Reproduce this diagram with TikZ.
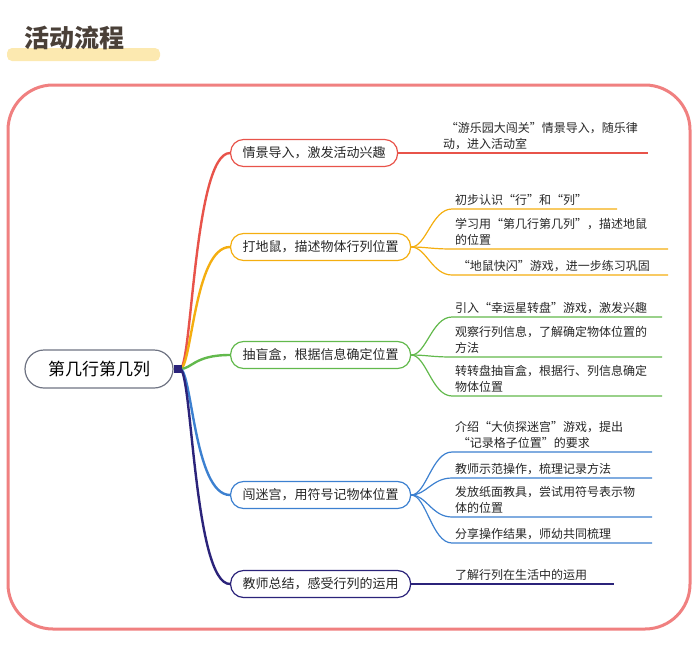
\documentclass[tikz,border=0pt]{standalone}
\usepackage{fontspec}
\setmainfont{Noto Sans CJK SC}
\begin{document}
\begin{tikzpicture}[x=1pt,y=-1pt,
  br/.style={draw=#1,rounded corners=13pt,line width=1.2pt,minimum height=27pt,inner xsep=12pt,font=\fontsize{13}{15}\selectfont,text=black!85,anchor=west},
  lf/.style={anchor=south west,align=left,inner sep=0pt,font=\fontsize{12}{16}\selectfont,text=black!85},
  con/.style={draw=#1,line width=2.4pt},
  lk/.style={draw=#1,line width=1.2pt}]
\definecolor{cr}{HTML}{E8534A}
\definecolor{co}{HTML}{F4AE10}
\definecolor{cg}{HTML}{62B94C}
\definecolor{cb}{HTML}{3C80D0}
\definecolor{cn}{HTML}{2B237A}
\definecolor{frame}{HTML}{F08080}
\useasboundingbox (0,0) rectangle (700,656);
% title
\fill[color={rgb,255:red,252;green,233;blue,176},rounded corners=5pt] (7,48) rectangle (160,61);
\node[font=\fontsize{25}{28}\bfseries\selectfont,text={rgb,255:red,74;green,64;blue,56},anchor=west,inner sep=0pt] (title) at (24,38) {活动流程};
\draw[frame,line width=3pt,rounded corners=45pt] (8,85) rectangle (690,629);
% root
\node[draw={rgb,255:red,110;green,115;blue,130},rounded corners=19pt,line width=1.2pt,minimum width=148pt,minimum height=38pt,font=\fontsize{17}{19}\selectfont] (root) at (99,369) {第几行第几列};
% branches
\node[br=cr] (b1) at (230,153) {情景导入，激发活动兴趣};
\node[br=co] (b2) at (230,247) {打地鼠，描述物体行列位置};
\node[br=cg] (b3) at (230,355) {抽盲盒，根据信息确定位置};
\node[br=cb] (b4) at (230,495) {闯迷宫，用符号记物体位置};
\node[br=cn] (b5) at (230,584) {教师总结，感受行列的运用};
\coordinate (s) at (180,369);
\draw[con=cr] (s) .. controls (192,369) and (194,153) .. (b1.west);
\draw[con=co] (s) .. controls (192,369) and (194,247) .. (b2.west);
\draw[con=cg] (s) .. controls (192,369) and (194,355) .. (b3.west);
\draw[con=cb] (s) .. controls (192,369) and (194,495) .. (b4.west);
\draw[con=cn] (s) .. controls (192,369) and (194,584) .. (b5.west);
\node[fill=cn,minimum size=8pt,inner sep=0pt] (sq) at (178,369) {};
% leaves 1
\coordinate (e1) at (648,153);
\draw[lk=cr] (b1.east) -- (e1);
\node[lf] (l1) at (443,150) {\ “游乐园大闯关”情景导入，随乐律\\动，进入活动室};
% leaves 2
\coordinate (e2a) at (617,209); \coordinate (e2b) at (668,249); \coordinate (e2c) at (668,275);
\draw[lk=co] (b2.east) .. controls +(15,0) and (432,209) .. (452,209) -- (e2a);
\draw[lk=co] (b2.east) .. controls +(15,0) and (432,249) .. (452,249) -- (e2b);
\draw[lk=co] (b2.east) .. controls +(15,0) and (432,275) .. (452,275) -- (e2c);
\node[lf] (l2a) at (455,206) {初步认识“行”和“列”};
\node[lf] (l2b) at (455,246) {学习用“第几行第几列”，描述地鼠\\的位置};
\node[lf] (l2c) at (455,272) {\ “地鼠快闪”游戏，进一步练习巩固};
% leaves 3
\coordinate (e3a) at (662,317); \coordinate (e3b) at (662,357); \coordinate (e3c) at (662,396);
\draw[lk=cg] (b3.east) .. controls +(15,0) and (432,317) .. (452,317) -- (e3a);
\draw[lk=cg] (b3.east) .. controls +(15,0) and (432,357) .. (452,357) -- (e3b);
\draw[lk=cg] (b3.east) .. controls +(15,0) and (432,396) .. (452,396) -- (e3c);
\node[lf] (l3a) at (455,314) {引入“幸运星转盘”游戏，激发兴趣};
\node[lf] (l3b) at (455,354) {观察行列信息，了解确定物体位置的\\方法};
\node[lf] (l3c) at (455,393) {转转盘抽盲盒，根据行、列信息确定\\物体位置};
% leaves 4
\coordinate (e4a) at (652,452); \coordinate (e4b) at (652,478); \coordinate (e4c) at (652,517); \coordinate (e4d) at (652,543);
\draw[lk=cb] (b4.east) .. controls +(15,0) and (432,452) .. (452,452) -- (e4a);
\draw[lk=cb] (b4.east) .. controls +(15,0) and (432,478) .. (452,478) -- (e4b);
\draw[lk=cb] (b4.east) .. controls +(15,0) and (432,517) .. (452,517) -- (e4c);
\draw[lk=cb] (b4.east) .. controls +(15,0) and (432,543) .. (452,543) -- (e4d);
\node[lf] (l4a) at (455,449) {介绍“大侦探迷宫”游戏，提出\\\ “记录格子位置”的要求};
\node[lf] (l4b) at (455,475) {教师示范操作，梳理记录方法};
\node[lf] (l4c) at (455,514) {发放纸面教具，尝试用符号表示物\\体的位置};
\node[lf] (l4d) at (455,540) {分享操作结果，师幼共同梳理};
% leaves 5
\coordinate (e5) at (614,584);
\draw[lk=cn] (b5.east) -- (e5);
\node[lf] (l5) at (455,581) {了解行列在生活中的运用};
\end{tikzpicture}
\end{document}
